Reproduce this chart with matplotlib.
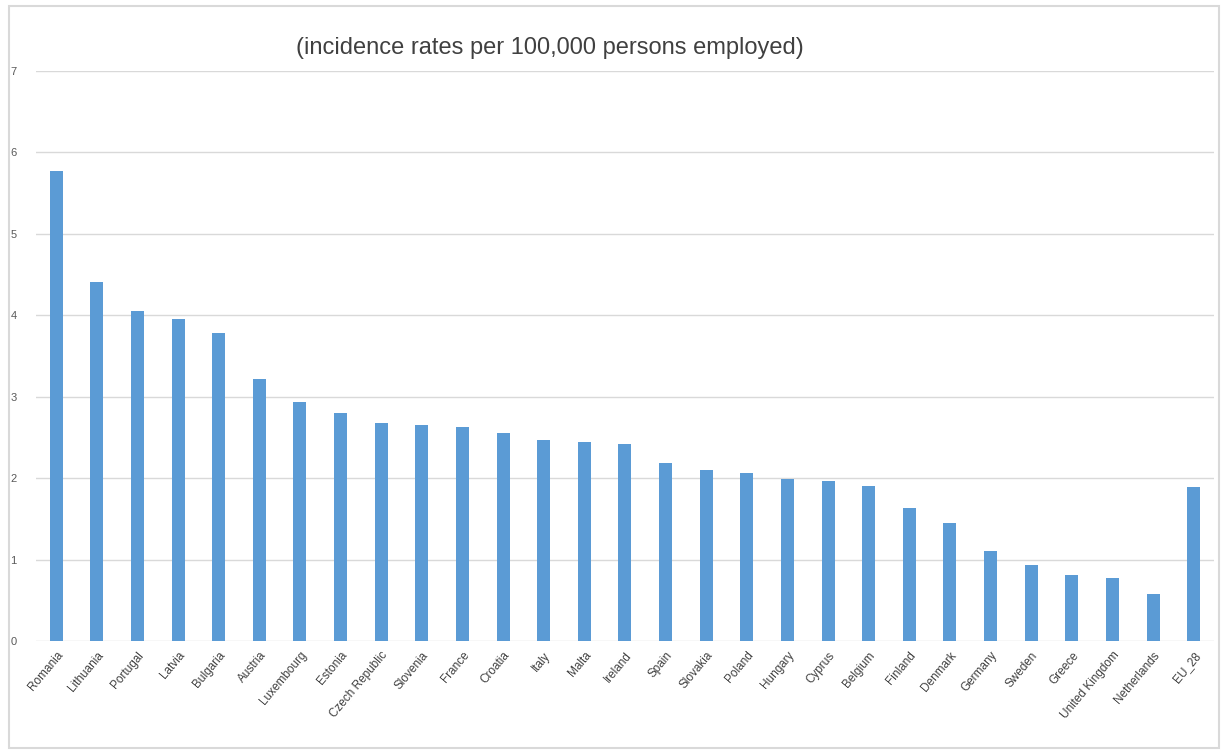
import numpy as np
import matplotlib.pyplot as plt
from matplotlib.patches import Rectangle

plt.rcParams['font.family'] = ['Liberation Sans', 'DejaVu Sans']

countries = ['Romania', 'Lithuania', 'Portugal', 'Latvia', 'Bulgaria', 'Austria',
             'Luxembourg', 'Estonia', 'Czech Republic', 'Slovenia', 'France', 'Croatia',
             'Italy', 'Malta', 'Ireland', 'Spain', 'Slovakia', 'Poland', 'Hungary',
             'Cyprus', 'Belgium', 'Finland', 'Denmark', 'Germany', 'Sweden', 'Greece',
             'United Kingdom', 'Netherlands', 'EU_28']
rates = [5.77, 4.41, 4.05, 3.96, 3.78, 3.22, 2.94, 2.80, 2.68, 2.65, 2.63, 2.56,
         2.47, 2.44, 2.42, 2.19, 2.10, 2.06, 1.99, 1.97, 1.90, 1.63, 1.45, 1.11,
         0.93, 0.81, 0.77, 0.58, 1.89]
yticks = [0, 1, 2, 3, 4, 5, 6, 7]

fig = plt.figure(figsize=(12.23, 7.56), dpi=100)
ax = fig.add_axes([0.0294, 0.152, 0.9632, 0.754])

x = np.arange(len(countries))
ax.bar(x, rates, width=0.32, color='#5B9BD5', zorder=3)

ax.set_xlim(-0.5, len(countries) - 0.5)
ax.set_ylim(0, 7)
ax.set_yticks(yticks)
ax.set_yticklabels([str(t) for t in yticks], fontsize=8, color='#595959')
ax.set_xticks(x)
ax.set_xticklabels(countries, rotation=50, ha='right', rotation_mode='anchor',
                   fontsize=8.5, color='#404040')
ax.tick_params(axis='both', length=0)
ax.tick_params(axis='y', pad=14)
ax.tick_params(axis='x', pad=6)
ax.grid(axis='y', color='#d9d9d9', linewidth=1, zorder=0)
for s in ax.spines.values():
    s.set_visible(False)

fig.text(0.4497, 0.936, '(incidence rates per 100,000 persons employed)',
         ha='center', va='center', fontsize=17, color='#404040')

fig.patches.append(Rectangle((0.007, 0.01), 0.99, 0.982, transform=fig.transFigure,
                             fill=False, edgecolor='#d9d9d9', linewidth=1.5))

fig.savefig('out.png', dpi=100)
